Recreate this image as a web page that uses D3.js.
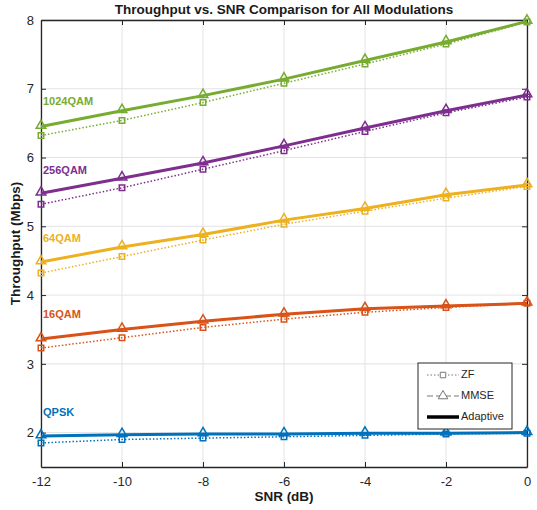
<!DOCTYPE html>
<html>
<head>
<meta charset="utf-8">
<script src="https://cdn.jsdelivr.net/npm/d3@7"></script>
<style>
  body { margin: 0; background: #fff; }
  svg { font-family: "Liberation Sans", Arial, sans-serif; }
</style>
</head>
<body>
<div id="chart"></div>
<script>
const snr = [-12, -10, -8, -6, -4, -2, 0];
const modulations = ["QPSK", "16QAM", "64QAM", "256QAM", "1024QAM"];
const colors = ["#0072BD", "#D95319", "#EDB120", "#7E2F8E", "#77AC30"];

const zfValues = [
  [1.85, 1.90, 1.92, 1.94, 1.96, 1.98, 1.99],
  [3.23, 3.38, 3.53, 3.65, 3.75, 3.82, 3.88],
  [4.32, 4.56, 4.80, 5.03, 5.22, 5.41, 5.58],
  [5.32, 5.56, 5.83, 6.10, 6.38, 6.65, 6.88],
  [6.32, 6.54, 6.80, 7.08, 7.36, 7.65, 7.97]
];
const mmseValues = [
  [1.95, 1.97, 1.98, 1.98, 1.99, 1.99, 2.00],
  [3.36, 3.50, 3.62, 3.72, 3.80, 3.84, 3.88],
  [4.48, 4.70, 4.88, 5.09, 5.26, 5.46, 5.60],
  [5.48, 5.70, 5.92, 6.17, 6.43, 6.68, 6.91],
  [6.45, 6.68, 6.90, 7.14, 7.41, 7.68, 7.98]
];
const adaptiveValues = mmseValues.map(row => row.slice());
const yTicks = [2, 3, 4, 5, 6, 7, 8];
// throughput level where each modulation name is written
const labelAt = [2.29, 3.71, 4.81, 5.8, 6.8];

const width = 537, height = 510;
const margin = {top: 20, right: 10, bottom: 43, left: 41};

const svg = d3.select("#chart").append("svg")
  .attr("width", width).attr("height", height);

const x = d3.scaleLinear().domain([-12, 0]).range([margin.left, width - margin.right]);
const y = d3.scaleLinear().domain([1.5, 8]).range([height - margin.bottom, margin.top]);

// grid
svg.append("g").selectAll("line").data(snr).enter().append("line")
  .attr("x1", d => x(d)).attr("x2", d => x(d))
  .attr("y1", y(1.5)).attr("y2", y(8))
  .attr("stroke", "#e3e3e3").attr("stroke-width", 1);
svg.append("g").selectAll("line").data(yTicks).enter().append("line")
  .attr("x1", x(-12)).attr("x2", x(0))
  .attr("y1", d => y(d)).attr("y2", d => y(d))
  .attr("stroke", "#e3e3e3").attr("stroke-width", 1);

// axes
const fmt = d => String(d);
const xAxis = svg.append("g")
  .attr("transform", `translate(0,${y(1.5)})`)
  .call(d3.axisBottom(x).tickValues(snr).tickFormat(fmt).tickSizeInner(-5).tickSizeOuter(0).tickPadding(10));
const yAxis = svg.append("g")
  .attr("transform", `translate(${x(-12)},0)`)
  .call(d3.axisLeft(y).tickValues(yTicks).tickFormat(fmt).tickSizeInner(-5).tickSizeOuter(0).tickPadding(7));
svg.append("g")
  .attr("transform", `translate(0,${y(8)})`)
  .call(d3.axisTop(x).tickValues(snr).tickSizeInner(-5).tickSizeOuter(0).tickFormat(""));
svg.append("g")
  .attr("transform", `translate(${x(0)},0)`)
  .call(d3.axisRight(y).tickValues(yTicks).tickSizeInner(-5).tickSizeOuter(0).tickFormat(""));
svg.selectAll(".domain").attr("stroke", "#262626").attr("stroke-width", 1.3);
svg.selectAll(".tick line").attr("stroke", "#262626");
[xAxis, yAxis].forEach(a => a.selectAll("text").attr("font-size", 13).attr("fill", "#262626"));

const line = d3.line().x((d, i) => x(snr[i])).y(d => y(d));
const tri = d3.symbol().type(d3.symbolTriangle).size(40);
const sq = d3.symbol().type(d3.symbolSquare).size(30);

modulations.forEach((m, k) => {
  const c = colors[k];
  const g = svg.append("g");
  // ZF dotted with squares
  g.append("path").attr("d", line(zfValues[k]))
    .attr("fill", "none").attr("stroke", c).attr("stroke-width", 1.5)
    .attr("stroke-dasharray", "1.5,2");
  g.selectAll(".zf").data(zfValues[k]).enter().append("path")
    .attr("d", sq).attr("transform", (d, i) => `translate(${x(snr[i])},${y(d)})`)
    .attr("fill", "none").attr("stroke", c).attr("stroke-width", 1.5);
  // MMSE dashed with triangles
  g.append("path").attr("d", line(mmseValues[k]))
    .attr("fill", "none").attr("stroke", c).attr("stroke-width", 1.5)
    .attr("stroke-dasharray", "6,3");
  g.selectAll(".mm").data(mmseValues[k]).enter().append("path")
    .attr("d", tri).attr("transform", (d, i) => `translate(${x(snr[i])},${y(d) - 1})`)
    .attr("fill", "none").attr("stroke", c).attr("stroke-width", 1.5);
  // Adaptive solid thick
  g.append("path").attr("d", line(adaptiveValues[k]))
    .attr("fill", "none").attr("stroke", c).attr("stroke-width", 3);
  // label
  svg.append("text").attr("x", x(-12) + 2).attr("y", y(labelAt[k]))
    .attr("font-size", 11).attr("font-weight", "bold").attr("fill", c)
    .attr("dominant-baseline", "middle").text(m);
});

// title and axis labels
svg.append("text").attr("x", (x(-12) + x(0)) / 2).attr("y", 14)
  .attr("text-anchor", "middle").attr("font-size", 13.5).attr("font-weight", "bold")
  .attr("fill", "#1a1a1a").text("Throughput vs. SNR Comparison for All Modulations");
svg.append("text").attr("x", (x(-12) + x(0)) / 2).attr("y", 501)
  .attr("text-anchor", "middle").attr("font-size", 13.5).attr("font-weight", "bold")
  .attr("fill", "#1a1a1a").text("SNR (dB)");
svg.append("text").attr("transform", `translate(20,${(y(1.5) + y(8)) / 2}) rotate(-90)`)
  .attr("text-anchor", "middle").attr("font-size", 13.5).attr("font-weight", "bold")
  .attr("fill", "#1a1a1a").text("Throughput (Mbps)");

// legend
const legendItems = [
  {name: "ZF", dash: "1.5,2", sym: sq, w: 1},
  {name: "MMSE", dash: "6,3", sym: tri, w: 1},
  {name: "Adaptive", dash: null, sym: null, w: 3.5}
];
const lg = svg.append("g").attr("transform", "translate(418,363)");
lg.append("rect").attr("width", 94).attr("height", 66)
  .attr("fill", "#fff").attr("stroke", "#262626").attr("stroke-width", 1);
legendItems.forEach((it, i) => {
  const yy = 12 + i * 21;
  lg.append("line").attr("x1", 9).attr("x2", 41).attr("y1", yy).attr("y2", yy)
    .attr("stroke", it.w > 2 ? "#000" : "#777").attr("stroke-width", it.w)
    .attr("stroke-dasharray", it.dash);
  if (it.sym) {
    lg.append("path").attr("d", it.sym).attr("transform", `translate(25,${yy})`)
      .attr("fill", "#fff").attr("stroke", "#777").attr("stroke-width", 1);
  }
  lg.append("text").attr("x", 43).attr("y", yy).attr("dominant-baseline", "middle")
    .attr("font-size", 11).attr("fill", "#262626").text(it.name);
});
</script>
</body>
</html>
